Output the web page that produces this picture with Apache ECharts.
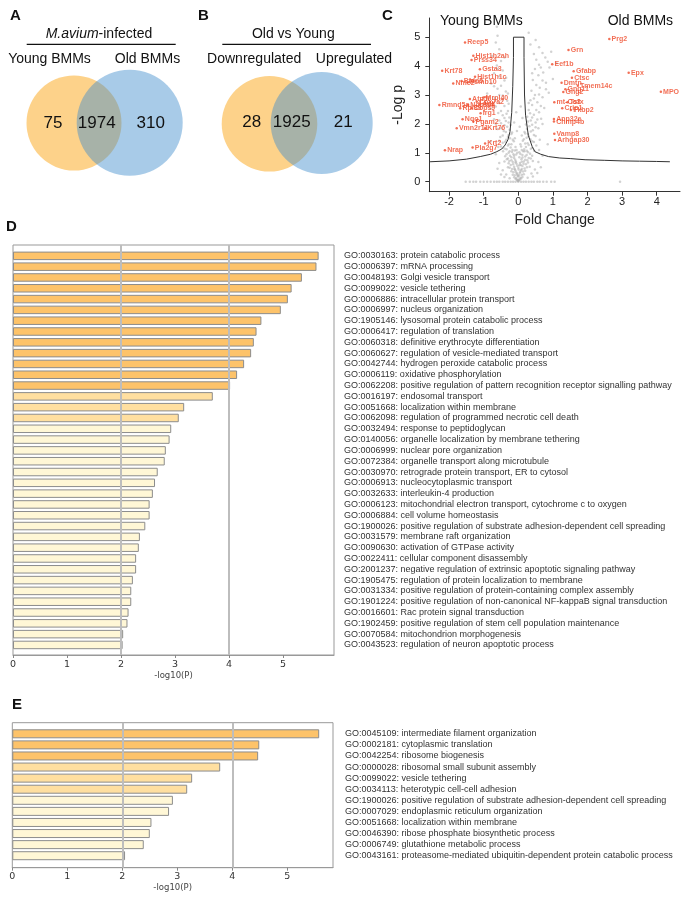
<!DOCTYPE html>
<html><head><meta charset="utf-8">
<script src="https://cdn.jsdelivr.net/npm/echarts@6/dist/echarts.min.js"></script>
<style>html,body{margin:0;padding:0;background:#fff}#c{width:684px;height:897px}</style>
</head><body><div id="c"></div>
<script>
// ---------- DATA ----------
const vennALabels = ['Young BMMs', 'Old BMMs'];
const vennACounts = [75, 1974, 310];
const vennBLabels = ['Downregulated', 'Upregulated'];
const vennBCounts = [28, 1925, 21];

const volcanoXTicks = [-2, -1, 0, 1, 2, 3, 4];
const volcanoYTicks = [0, 1, 2, 3, 4, 5];

const geneNames = ['Reep5','Hist1h2ah','Prss34','Gsta3','Krt78','Hist1h1c','Pfdn5','Nme2','Psmb10','Mrpl40','Atp5l','Cox7a2','Ndufa4','Adk','Cops9','Rmnd5a','Rpl39','Irg1','Nqo1','Pgam2','Vmn2r11','Krt76','Krt2','Pla2g7','Nrap',
  'Prg2','Grn','Eef1b','Gfabp','Ctsc','Dmtn','Tmem14c','Gng11','Gng2','Epx','MPO','mt-Co3','Tsfx','Crip1','Fkbp2','Anp32e','Chmp4b','Vamp8','Arhgap30'];
const geneFC = [-1.54,-1.3,-1.35,-1.11,-2.2,-1.25,-1.64,-1.88,-1.47,-1.01,-1.40,-1.20,-1.45,-1.11,-1.35,-2.28,-1.68,-1.09,-1.61,-1.3,-1.78,-0.96,-0.96,-1.32,-2.12,
  2.63,1.45,0.98,1.6,1.55,1.25,1.72,1.36,1.3,3.19,4.12,1.04,1.42,1.27,1.52,1.03,1.03,1.04,1.06];
const geneLogP = [4.82,4.36,4.21,3.89,3.84,3.63,3.48,3.40,3.44,2.91,2.86,2.77,2.65,2.68,2.54,2.65,2.54,2.37,2.16,2.08,1.85,1.85,1.32,1.18,1.09,
  4.94,4.56,4.06,3.82,3.6,3.42,3.32,3.2,3.1,3.77,3.11,2.75,2.75,2.54,2.48,2.17,2.08,1.66,1.44];

const bgPoints = [
 [-1.52,0],[-1.4,0],[-1.3,0],[-1.22,0],[-1.1,0],[-1.0,0],[-0.9,0],[-0.8,0],[-0.7,0],[-0.62,0],[-0.55,0],[-0.45,0],[-0.38,0],[-0.3,0],[-0.22,0],[-0.15,0],[-0.08,0],[0,0],[0.08,0],[0.15,0],[0.22,0],[0.3,0],[0.38,0],[0.45,0],[0.55,0],[0.62,0],[0.72,0],[0.82,0],[0.95,0],[1.05,0],[2.94,0],
 [-0.02,0.05],[0.02,0.08],[-0.06,0.12],[0.06,0.14],[0,0.18],[-0.1,0.22],[0.1,0.24],[-0.04,0.28],[0.04,0.3],[-0.14,0.33],[0.14,0.35],[-0.08,0.38],[0.08,0.4],[-0.18,0.44],[0.18,0.46],[0,0.48],[-0.12,0.52],[0.12,0.54],[-0.22,0.58],[0.22,0.6],[-0.05,0.62],[0.05,0.65],[-0.16,0.68],[0.16,0.7],[-0.26,0.72],[0.26,0.74],[-0.09,0.76],[0.09,0.78],[-0.3,0.8],[0.3,0.82],
 [-0.03,0.25],[0.01,0.42],[-0.11,0.45],[0.07,0.58],[-0.07,0.7],[0.03,0.85],[-0.14,0.95],[0.14,1.05],[-0.05,1.1],[0.06,1.3],[-0.1,1.5],[0.1,1.6],[-0.04,1.75],[0.04,1.9],[-0.12,2.05],[0.12,2.2],[-0.06,2.4],[0.07,2.6],
 [-0.35,0.25],[0.38,0.28],[-0.45,0.4],[0.48,0.42],[-0.3,0.5],[0.33,0.52],[-0.55,0.65],[0.58,0.68],[-0.4,0.7],[0.42,0.72],[0.7,0.9],[-0.65,0.95],[0.6,1.1],[-0.58,1.2],[0.85,1.3],[-0.8,1.4],
 [-0.2,0.85],[0.2,0.87],[-0.12,0.9],[0.12,0.92],[-0.34,0.95],[0.34,0.97],[-0.03,1.0],[0.03,1.02],[-0.25,1.05],[0.25,1.07],[-0.17,1.1],[0.17,1.12],[-0.4,1.15],[0.4,1.17],[-0.08,1.2],[0.08,1.22],[-0.3,1.25],[0.3,1.27],[-0.2,1.3],[0.2,1.32],[-0.45,1.35],[0.45,1.37],[-0.13,1.4],[0.13,1.42],[-0.35,1.45],[0.35,1.47],[-0.24,1.5],[0.24,1.52],[-0.52,1.55],[0.5,1.58],
 [-0.28,1.62],[0.28,1.65],[-0.18,1.7],[0.18,1.72],[-0.42,1.75],[0.42,1.78],[-0.6,1.82],[0.58,1.85],[-0.32,1.9],[0.32,1.92],[-0.22,1.96],[0.22,1.98],[-0.5,2.02],[0.5,2.05],[-0.36,2.1],[0.36,2.12],[-0.7,2.16],[0.66,2.18],[-0.26,2.22],[0.26,2.25],[-0.45,2.3],[0.45,2.32],[-0.58,2.38],[0.6,2.4],[-0.3,2.45],[0.3,2.48],[-0.8,2.52],[0.75,2.55],
 [-0.4,2.62],[0.4,2.65],[-0.55,2.72],[0.55,2.75],[-0.32,2.8],[0.35,2.82],[-0.68,2.9],[0.7,2.92],[-0.45,2.98],[0.48,3.0],[-0.9,3.05],[0.88,3.08],[-0.36,3.12],[0.38,3.15],[-0.6,3.22],[0.62,3.25],[-0.5,3.32],[0.52,3.35],[-0.78,3.4],[0.8,3.42],[-0.4,3.5],[0.42,3.52],[1.0,3.55],
 [-0.55,3.65],[0.58,3.68],[-0.7,3.75],[0.72,3.78],[-0.45,3.85],[0.48,3.9],[0.9,3.95],[-0.62,4.02],[0.6,4.05],[1.1,4.1],[-0.5,4.18],[0.52,4.22],[0.78,4.3],[-0.75,4.35],[0.45,4.42],[0.95,4.5],[-0.55,4.58],[0.6,4.65],[0.35,4.75],[-0.65,4.82],[0.5,4.9],[-0.6,5.05],[0.3,5.15],[-0.62,5.36],
 [-0.01,0.02],[0.01,0.03],[-0.04,0.06],[0.04,0.07],[-0.08,0.1],[0.08,0.11],[-0.12,0.15],[0.12,0.16],[-0.02,0.2],[0.02,0.22],[-0.16,0.24],[0.16,0.26],[-0.06,0.32],[0.06,0.34],[-0.2,0.36],[0.2,0.38],[-0.1,0.42],[0.1,0.44],[-0.25,0.48],[0.25,0.5],[-0.03,0.55],[0.03,0.57],[-0.15,0.6],[0.15,0.62],[-0.28,0.64],[0.28,0.66],[-0.08,0.66],[0.1,0.69],[-0.2,0.74],[0.2,0.76],[-0.33,0.78],[0.36,0.8],[-0.12,0.82],[0.12,0.84],[-0.24,0.9],[0.24,0.92],[-0.38,0.88],[0.4,0.9],[-0.06,0.94],[0.06,0.96],[-0.28,1.0],[0.28,1.02],[-0.18,1.03],[0.18,1.05],[-0.44,1.05],[0.46,1.07],[-0.1,1.08],[0.1,1.1],[-0.34,1.12],[0.36,1.14],[-0.22,1.18],[0.22,1.2],[-0.5,1.22],[0.52,1.25],[-0.27,1.3],[0.27,1.33],[-0.38,1.38],[0.4,1.4],[-0.16,1.45],[0.16,1.47],[-0.55,1.42],[0.62,1.45],[-0.3,1.55],[0.3,1.57],[-0.45,1.6],[0.45,1.62],[-0.2,1.65],[0.2,1.67],[-0.36,1.72],[0.36,1.74],[-0.25,1.8],[0.25,1.82],[-0.5,1.85],[0.5,1.88],[-0.4,1.95],[0.4,1.97],[-0.65,2.0],[0.7,2.0],[-0.28,2.05],[0.28,2.08],[-0.55,2.12],[0.55,2.15],[-0.4,2.2],[0.4,2.22],[-0.34,2.35],[0.34,2.37],[-0.5,2.45],[0.52,2.48],[-0.65,2.6],[0.65,2.62],[-0.28,2.7],[0.3,2.72],[-0.45,2.85],[0.45,2.88],[-0.55,3.0],[0.6,3.02],[-0.3,3.05],[0.8,3.2],[-0.7,3.3],[0.7,3.5],[-0.35,3.6],[0.4,3.75],[-0.6,3.9],[0.65,3.95],[0.85,4.15],[-0.4,4.3],[0.7,4.45],
 [-0.25,0.12],[0.27,0.14],[-0.4,0.16],[0.42,0.18],[-0.5,0.25],[0.55,0.3],[-0.6,0.45],[0.65,0.5]
];

const thrFC   = [-2.55,-2.0,-1.5,-1.1,-0.8,-0.62,-0.48,-0.38,-0.3,-0.24,-0.19,-0.16,-0.14,-0.14,0.165,0.165,0.18,0.21,0.29,0.4,0.48,0.65,0.87,1.2,1.5,1.93,2.5,3.0,3.5,4.0,4.38];
const thrLogP = [0.69,0.72,0.78,0.87,0.95,1.04,1.13,1.27,1.45,1.73,2.4,3.3,4.3,5.0,5.0,4.3,3.0,2.3,1.6,1.22,1.04,0.95,0.87,0.82,0.8,0.76,0.74,0.72,0.71,0.7,0.69];

const barTicks = [0, 1, 2, 3, 4, 5];
const goTermsD = [
 'GO:0030163: protein catabolic process','GO:0006397: mRNA processing','GO:0048193: Golgi vesicle transport','GO:0099022: vesicle tethering',
 'GO:0006886: intracellular protein transport','GO:0006997: nucleus organization','GO:1905146: lysosomal protein catabolic process','GO:0006417: regulation of translation',
 'GO:0060318: definitive erythrocyte differentiation','GO:0060627: regulation of vesicle-mediated transport','GO:0042744: hydrogen peroxide catabolic process','GO:0006119: oxidative phosphorylation',
 'GO:0062208: positive regulation of pattern recognition receptor signalling pathway','GO:0016197: endosomal transport','GO:0051668: localization within membrane','GO:0062098: regulation of programmed necrotic cell death',
 'GO:0032494: response to peptidoglycan','GO:0140056: organelle localization by membrane tethering','GO:0006999: nuclear pore organization','GO:0072384: organelle transport along microtubule',
 'GO:0030970: retrograde protein transport, ER to cytosol','GO:0006913: nucleocytoplasmic transport','GO:0032633: interleukin-4 production','GO:0006123: mitochondrial electron transport, cytochrome c to oxygen',
 'GO:0006884: cell volume homeostasis','GO:1900026: positive regulation of substrate adhesion-dependent cell spreading','GO:0031579: membrane raft organization','GO:0090630: activation of GTPase activity',
 'GO:0022411: cellular component disassembly','GO:2001237: negative regulation of extrinsic apoptotic signaling pathway','GO:1905475: regulation of protein localization to membrane','GO:0031334: positive regulation of protein-containing complex assembly',
 'GO:1901224: positive regulation of non-canonical NF-kappaB signal transduction','GO:0016601: Rac protein signal transduction','GO:1902459: positive regulation of stem cell population maintenance','GO:0070584: mitochondrion morphogenesis',
 'GO:0043523: regulation of neuron apoptotic process'];
const goValuesD = [5.66,5.62,5.35,5.16,5.09,4.96,4.60,4.51,4.46,4.41,4.28,4.15,4.02,3.70,3.17,3.07,2.93,2.90,2.83,2.81,2.68,2.63,2.59,2.53,2.53,2.45,2.35,2.33,2.28,2.28,2.22,2.19,2.19,2.14,2.12,2.04,2.03];

const goTermsE = [
 'GO:0045109: intermediate filament organization','GO:0002181: cytoplasmic translation','GO:0042254: ribosome biogenesis','GO:0000028: ribosomal small subunit assembly',
 'GO:0099022: vesicle tethering','GO:0034113: heterotypic cell-cell adhesion','GO:1900026: positive regulation of substrate adhesion-dependent cell spreading','GO:0007029: endoplasmic reticulum organization',
 'GO:0051668: localization within membrane','GO:0046390: ribose phosphate biosynthetic process','GO:0006749: glutathione metabolic process','GO:0043161: proteasome-mediated ubiquitin-dependent protein catabolic process'];
const goValuesE = [5.58,4.49,4.47,3.78,3.27,3.18,2.92,2.85,2.53,2.50,2.39,2.05];

// ---------- STYLE / LAYOUT ----------
const FONT = '"Liberation Sans", Arial, Helvetica, sans-serif';
const TICKFONT = '"DejaVu Sans", sans-serif';
const DARK = '#FDC36A', MID = '#FFDFA0', LIGHT = '#FFF7D6';
const ORANGE = 'rgb(253,210,138)', BLUE = 'rgba(62,139,204,0.45)';
const RED = '#EF4B2C';
function barColor(v) { return v >= 4 ? DARK : (v >= 3 ? MID : LIGHT); }
function barData(vals) { return vals.map(v => ({ value: v, itemStyle: { color: barColor(v) } })); }

function txt(x, y, s, size, opts) {
  return Object.assign({ type: 'text', x: x, y: y, z: 10,
    style: Object.assign({ text: s, fontSize: size, fontFamily: FONT, fill: '#111', align: 'center', verticalAlign: 'middle' }, opts || {}) });
}
function venn(lay, labels, counts, title, rich) {
  const g = [];
  g.push({ type: 'circle', z: 1, shape: { cx: lay.c1[0], cy: lay.c1[1], r: lay.c1[2] }, style: { fill: ORANGE } });
  g.push({ type: 'circle', z: 2, shape: { cx: lay.c2[0], cy: lay.c2[1], r: lay.c2[2] }, style: { fill: BLUE } });
  g.push(txt(lay.t[0], lay.t[1], title, 14, rich ? { rich: rich } : {}));
  g.push({ type: 'line', z: 10, shape: { x1: lay.ln[0], y1: lay.ln[2], x2: lay.ln[1], y2: lay.ln[2] }, style: { stroke: '#111', lineWidth: 1.2 } });
  g.push(txt(lay.l1[0], lay.l1[1], labels[0], 14));
  g.push(txt(lay.l2[0], lay.l2[1], labels[1], 14));
  for (let i = 0; i < 3; i++) g.push(txt(lay.n[i], lay.ny, String(counts[i]), 17));
  return g;
}
const layA = { c1: [74, 123, 47.5], c2: [129.7, 122.8, 53], t: [99, 34.3], ln: [26.7, 175.7, 44.3], l1: [49.5, 59.3], l2: [147.5, 59.3], n: [53, 96.7, 150.7], ny: 123 };
const layB = { c1: [269.5, 123.8, 47.8], c2: [321.7, 123, 51], t: [293.3, 34.3], ln: [222.3, 371, 44.3], l1: [254.2, 59.3], l2: [354, 59.3], n: [251.7, 291.7, 343.3], ny: 122.7 };

const graphics = [].concat(
  venn(layA, vennALabels, vennACounts, '{i|M.avium}-infected', { i: { fontStyle: 'italic', fontSize: 14, fontFamily: FONT, fill: '#111' } }),
  venn(layB, vennBLabels, vennBCounts, 'Old vs Young', null),
  [
    txt(10, 16, 'A', 15, { align: 'left', fontWeight: 'bold' }),
    txt(198, 16, 'B', 15, { align: 'left', fontWeight: 'bold' }),
    txt(382, 16, 'C', 15, { align: 'left', fontWeight: 'bold' }),
    txt(6, 227, 'D', 15, { align: 'left', fontWeight: 'bold' }),
    txt(12, 705, 'E', 15, { align: 'left', fontWeight: 'bold' }),
    txt(440, 20.7, 'Young BMMs', 14, { align: 'left' }),
    txt(607.7, 20.7, 'Old BMMs', 14, { align: 'left' })
  ]
);

const vol = { left: 429.3, top: 18, width: 250.7, height: 173.7 };
const dFrame = { left: 13, top: 245, width: 321, height: 410 };
const dBars = { left: 13, top: 250.45, width: 321, height: 399.9 };
const eFrame = { left: 12.3, top: 722.7, width: 320.7, height: 145 };
const eBars = { left: 12.3, top: 728.26, width: 320.7, height: 133 };
const dMax = 321 / 54, eMax = 320.7 / 55;

function frameX(grid, max, nameGap, margin) {
  return { type: 'value', gridIndex: grid, min: 0, max: max,
    axisLine: { show: true, lineStyle: { color: '#999', width: 1 } },
    axisTick: { show: true, customValues: barTicks, length: 3, lineStyle: { color: '#888' } },
    axisLabel: { customValues: barTicks, fontSize: 9.5, fontFamily: TICKFONT, color: '#333', margin: margin },
    splitLine: { show: false },
    name: '-log10(P)', nameLocation: 'middle', nameGap: nameGap,
    nameTextStyle: { fontSize: 8.5, fontFamily: TICKFONT, color: '#444' } };
}
function hiddenX(grid, max) { return { type: 'value', gridIndex: grid, min: 0, max: max, show: false }; }
function hiddenY(grid) { return { type: 'value', gridIndex: grid, min: 0, max: 1, show: false }; }
function catY(grid, terms, margin) {
  return { type: 'category', gridIndex: grid, data: terms, inverse: true, position: 'right',
    axisLine: { show: false }, axisTick: { show: false }, splitLine: { show: false },
    axisLabel: { interval: 0, fontSize: 9, fontFamily: FONT, color: '#333', margin: margin, align: 'left' } };
}
function gridLines(xi, yi) {
  return { type: 'scatter', xAxisIndex: xi, yAxisIndex: yi, data: [[0, 0]], symbolSize: 0, silent: true, z: 1,
    markLine: { silent: true, symbol: 'none', label: { show: false }, animation: false,
      lineStyle: { color: '#bdbdbd', width: 2, type: 'solid' }, data: [{ xAxis: 2 }, { xAxis: 4 }] } };
}
function bars(xi, yi, vals, w) {
  return { type: 'bar', xAxisIndex: xi, yAxisIndex: yi, data: barData(vals), barWidth: w, z: 3,
    itemStyle: { borderColor: '#8c8c8c', borderWidth: 1 } };
}

const option = {
  animation: false,
  backgroundColor: '#fff',
  textStyle: { fontFamily: FONT },
  graphic: graphics,
  grid: [
    Object.assign({ show: false }, vol),
    Object.assign({ show: true, borderColor: '#999', borderWidth: 1, backgroundColor: 'transparent' }, dFrame),
    Object.assign({ show: false }, dBars),
    Object.assign({ show: true, borderColor: '#999', borderWidth: 1, backgroundColor: 'transparent' }, eFrame),
    Object.assign({ show: false }, eBars)
  ],
  xAxis: [
    { type: 'value', gridIndex: 0, min: -2.572, max: 4.673,
      axisLine: { onZero: false, lineStyle: { color: '#333', width: 1 } },
      axisTick: { customValues: volcanoXTicks, length: 4, lineStyle: { color: '#333' } },
      axisLabel: { customValues: volcanoXTicks, fontSize: 11, fontFamily: FONT, color: '#222', margin: 5 },
      splitLine: { show: false },
      name: 'Fold Change', nameLocation: 'middle', nameGap: 21,
      nameTextStyle: { fontSize: 14, fontFamily: FONT, color: '#222' } },
    frameX(1, dMax, 15, 5),
    hiddenX(2, dMax),
    frameX(3, eMax, 16, 4),
    hiddenX(4, eMax)
  ],
  yAxis: [
    { type: 'value', gridIndex: 0, min: -0.346, max: 5.664,
      axisLine: { show: true, onZero: false, lineStyle: { color: '#333', width: 1 } },
      axisTick: { show: true, customValues: volcanoYTicks, length: 4, lineStyle: { color: '#333' } },
      axisLabel: { customValues: volcanoYTicks, fontSize: 11, fontFamily: FONT, color: '#222', margin: 9 },
      splitLine: { show: false },
      name: '-Log p', nameLocation: 'middle', nameGap: 24, nameRotate: 90,
      nameTextStyle: { fontSize: 14, fontFamily: FONT, color: '#222' } },
    hiddenY(1),
    catY(2, goTermsD, 10),
    hiddenY(3),
    catY(4, goTermsE, 12)
  ],
  series: [
    { type: 'scatter', xAxisIndex: 0, yAxisIndex: 0, data: bgPoints, symbolSize: 2.5, silent: true,
      itemStyle: { color: 'rgba(175,175,175,0.7)' }, z: 2 },
    { type: 'line', xAxisIndex: 0, yAxisIndex: 0, data: thrFC.map((x, i) => [x, thrLogP[i]]), showSymbol: false, symbol: 'none',
      lineStyle: { color: '#333', width: 1 }, z: 3, silent: true },
    { type: 'scatter', xAxisIndex: 0, yAxisIndex: 0, symbolSize: 2.5, z: 4,
      data: geneNames.map((n, i) => ({ name: n, value: [geneFC[i], geneLogP[i]] })),
      itemStyle: { color: RED },
      label: { show: true, position: 'right', distance: 1, offset: [0, 2.5], formatter: '{b}',
        fontSize: 7, fontWeight: 'bold', fontFamily: FONT, color: RED },
      labelLayout: { hideOverlap: false } },
    gridLines(1, 1),
    bars(2, 2, goValuesD, 8.5),
    gridLines(3, 3),
    bars(4, 4, goValuesE, 9)
  ]
};
const chart = echarts.init(document.getElementById('c'), null, { renderer: 'canvas', width: 684, height: 897 });
chart.setOption(option);
</script>
</body></html>
